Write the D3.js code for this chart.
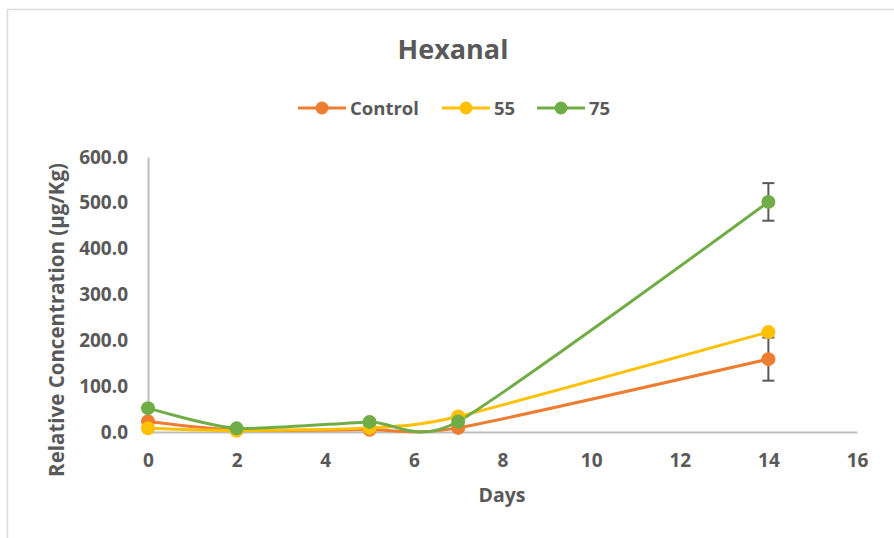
<!DOCTYPE html>
<html>
<head>
<meta charset="utf-8">
<script src="https://cdn.jsdelivr.net/npm/d3@7"></script>
<style>
  html, body { margin: 0; padding: 0; background: #fff; }
  svg { display: block; }
  text { font-family: "Open Sans", "Noto Sans", sans-serif; font-weight: bold; fill: #595959; }
</style>
</head>
<body>
<svg id="chart" width="894" height="538"></svg>
<script>
// Hexanal relative concentration over storage days
const days = [0, 2, 5, 7, 14];
const seriesNames = ["Control", "55", "75"];
const controlValues = [23, 4, 5, 9, 159];
const t55Values = [8, 3, 9, 34, 218];
const t75Values = [52, 8, 22, 23, 502];
const controlErrors = [0, 0, 0, 0, 47];
const t55Errors = [0, 0, 0, 0, 0];
const t75Errors = [0, 0, 0, 0, 41];
const seriesColors = ["#ED7D31", "#FFC000", "#70AD47"];
const xTicks = [0, 2, 4, 6, 8, 10, 12, 14, 16];
const yTicks = [0, 100, 200, 300, 400, 500, 600];

const series = [
  { name: seriesNames[0], values: controlValues, errors: controlErrors, color: seriesColors[0] },
  { name: seriesNames[1], values: t55Values, errors: t55Errors, color: seriesColors[1] },
  { name: seriesNames[2], values: t75Values, errors: t75Errors, color: seriesColors[2] }
];

const svg = d3.select("#chart");

// outer chart frame
svg.append("rect")
  .attr("x", 7.5).attr("y", 9.5)
  .attr("width", 900).attr("height", 540)
  .attr("fill", "none").attr("stroke", "#D9D9D9").attr("stroke-width", 1.5);

const x = d3.scaleLinear().domain([0, 16]).range([148, 857]);
const y = d3.scaleLinear().domain([0, 600]).range([432, 157]);

// title
svg.append("text")
  .attr("x", 453).attr("y", 59)
  .attr("text-anchor", "middle")
  .style("font-size", "27px")
  .text("Hexanal");

// axes
const xAxis = svg.append("g")
  .attr("transform", `translate(0,${y(0)})`)
  .call(d3.axisBottom(x).tickValues(xTicks).tickSize(0).tickPadding(22).tickFormat(d3.format("d")));
const yAxis = svg.append("g")
  .attr("transform", `translate(${x(0)},0)`)
  .call(d3.axisLeft(y).tickValues(yTicks).tickSize(0).tickPadding(20).tickFormat(d3.format(".1f")));

[xAxis, yAxis].forEach(g => {
  g.select(".domain").attr("stroke", "#BFBFBF").attr("stroke-width", 2);
  g.selectAll("text")
    .attr("fill", "#595959")
    .style("font-size", "19px")
    .style("font-family", "'Open Sans', 'Noto Sans', sans-serif")
    .style("font-weight", "bold");
});

// axis titles
svg.append("text")
  .attr("x", 502).attr("y", 502)
  .attr("text-anchor", "middle")
  .style("font-size", "19.5px")
  .text("Days");
svg.append("text")
  .attr("transform", "translate(64,320) rotate(-90)")
  .attr("text-anchor", "middle")
  .style("font-size", "20.5px")
  .text("Relative Concentration (\u00b5g/Kg)");

// smoothed series lines
const line = d3.line()
  .x((d, i) => x(days[i]))
  .y(d => y(d))
  .curve(d3.curveCardinal.tension(0.35));

const plot = svg.append("g");
series.forEach(s => {
  plot.append("path")
    .datum(s.values)
    .attr("d", line)
    .attr("fill", "none")
    .attr("stroke", s.color)
    .attr("stroke-width", 3);
});

// error bars
series.forEach(s => {
  s.values.forEach((v, i) => {
    const e = s.errors[i];
    if (!e) return;
    const cx = x(days[i]);
    const g = plot.append("g").attr("stroke", "#595959").attr("stroke-width", 2);
    g.append("line").attr("x1", cx).attr("x2", cx).attr("y1", y(v - e)).attr("y2", y(v + e));
    g.append("line").attr("x1", cx - 6).attr("x2", cx + 6).attr("y1", y(v - e)).attr("y2", y(v - e));
    g.append("line").attr("x1", cx - 6).attr("x2", cx + 6).attr("y1", y(v + e)).attr("y2", y(v + e));
  });
});

// markers
series.forEach(s => {
  plot.selectAll(null)
    .data(s.values)
    .enter().append("circle")
    .attr("cx", (d, i) => x(days[i]))
    .attr("cy", d => y(d))
    .attr("r", 7)
    .attr("fill", s.color);
});

// legend
const legendX = [298, 442, 537];
const legend = svg.append("g");
series.forEach((s, i) => {
  const lx = legendX[i];
  legend.append("line")
    .attr("x1", lx).attr("x2", lx + 48)
    .attr("y1", 108).attr("y2", 108)
    .attr("stroke", s.color).attr("stroke-width", 3);
  legend.append("circle")
    .attr("cx", lx + 24).attr("cy", 108).attr("r", 6.5)
    .attr("fill", s.color);
  legend.append("text")
    .attr("x", lx + 52).attr("y", 115)
    .style("font-size", "18.5px")
    .text(s.name);
});
</script>
</body>
</html>
